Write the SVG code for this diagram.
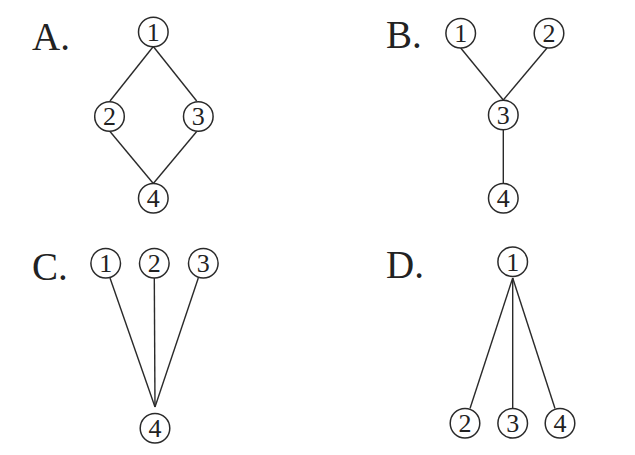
<svg xmlns="http://www.w3.org/2000/svg" width="635" height="455" viewBox="0 0 635 455">
<style>
.bg{fill:#ffffff}
.n circle{fill:#ffffff;stroke:#2a2a2a;stroke-width:1.5}
.n text{font-family:"Liberation Serif",serif;font-size:26px;fill:#222;text-anchor:middle}
.lab{font-family:"Liberation Serif",serif;font-size:39px;fill:#222}
.e line{stroke:#2a2a2a;stroke-width:1.4}
</style>
<rect class="bg" width="635" height="455"/>
<g id="labels">
<text class="lab" x="32" y="50">A.</text>
<text class="lab" x="386" y="48">B.</text>
<text class="lab" x="32" y="280">C.</text>
<text class="lab" x="386" y="278">D.</text>
</g>
<g id="connectors" class="e">
<line x1="153.3" y1="46.5" x2="110" y2="101"/>
<line x1="153.3" y1="46.5" x2="196.7" y2="101"/>
<line x1="110" y1="131.5" x2="153.3" y2="183.5"/>
<line x1="196.7" y1="131.5" x2="153.3" y2="183.5"/>
<line x1="460.7" y1="48" x2="503.3" y2="100"/>
<line x1="547" y1="48" x2="503.3" y2="100"/>
<line x1="503.3" y1="130" x2="503.3" y2="183.5"/>
<line x1="110" y1="278" x2="155" y2="407"/>
<line x1="154.3" y1="278" x2="155" y2="407"/>
<line x1="198.3" y1="278" x2="155" y2="407"/>
<line x1="512.7" y1="278" x2="470" y2="408.5"/>
<line x1="512.7" y1="278" x2="512.7" y2="408.5"/>
<line x1="512.7" y1="278" x2="555" y2="408.5"/>
</g>
<g id="A1" class="n"><circle cx="153.3" cy="32" r="14.8"/><text x="153.3" y="40.8">1</text></g>
<g id="A2" class="n"><circle cx="109.5" cy="116.5" r="14.8"/><text x="109.5" y="125.3">2</text></g>
<g id="A3" class="n"><circle cx="198.3" cy="116.5" r="14.8"/><text x="198.3" y="125.3">3</text></g>
<g id="A4" class="n"><circle cx="153.3" cy="198.3" r="14.8"/><text x="153.3" y="207.1">4</text></g>
<g id="B1" class="n"><circle cx="460.7" cy="33.3" r="14.8"/><text x="460.7" y="42.1">1</text></g>
<g id="B2" class="n"><circle cx="549" cy="33.3" r="14.8"/><text x="549" y="42.1">2</text></g>
<g id="B3" class="n"><circle cx="503.3" cy="115" r="14.8"/><text x="503.3" y="123.8">3</text></g>
<g id="B4" class="n"><circle cx="503.3" cy="198.3" r="14.8"/><text x="503.3" y="207.1">4</text></g>
<g id="C1" class="n"><circle cx="105.7" cy="263.3" r="14.8"/><text x="105.7" y="272.1">1</text></g>
<g id="C2" class="n"><circle cx="154.3" cy="263.3" r="14.8"/><text x="154.3" y="272.1">2</text></g>
<g id="C3" class="n"><circle cx="203.3" cy="263.3" r="14.8"/><text x="203.3" y="272.1">3</text></g>
<g id="C4" class="n"><circle cx="155" cy="428.3" r="14.8"/><text x="155" y="437.1">4</text></g>
<g id="D1" class="n"><circle cx="512.7" cy="261.7" r="14.8"/><text x="512.7" y="270.5">1</text></g>
<g id="D2" class="n"><circle cx="465" cy="423.3" r="14.8"/><text x="465" y="432.1">2</text></g>
<g id="D3" class="n"><circle cx="512.7" cy="423.3" r="14.8"/><text x="512.7" y="432.1">3</text></g>
<g id="D4" class="n"><circle cx="560" cy="423.3" r="14.8"/><text x="560" y="432.1">4</text></g>
</svg>
